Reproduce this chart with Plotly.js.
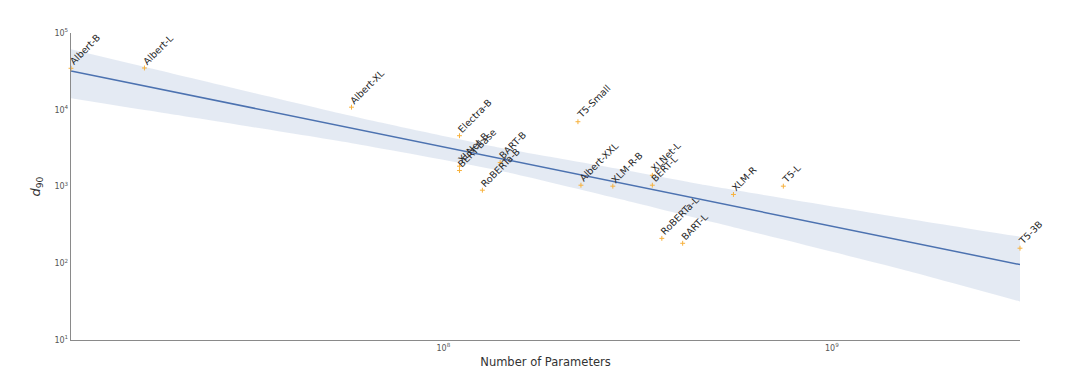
<!DOCTYPE html>
<html>
<head>
<meta charset="utf-8">
<script src="https://cdn.plot.ly/plotly-3.0.1.min.js"></script>
<style>html,body{margin:0;padding:0;background:#fff;}#chart{width:1080px;height:389px;}</style>
</head>
<body>
<div id="chart"></div>
<script>
// Model names, parameter counts and d90 values
const models = ['Albert-B','Albert-L','Albert-XL','Electra-B','XLNet-B','BERT-Base','RoBERTa-B','BART-B','T5-Small','Albert-XXL','XLM-R-B','XLNet-L','BERT-L','RoBERTa-L','BART-L','XLM-R','T5-L','T5-3B'];
const params = [1.1e7, 1.7e7, 5.8e7, 1.1e8, 1.1e8, 1.1e8, 1.26e8, 1.4e8, 2.22e8, 2.26e8, 2.73e8, 3.45e8, 3.45e8, 3.65e8, 4.13e8, 5.58e8, 7.5e8, 3.05e9];
const d90 = [34700, 35000, 10800, 4590, 1840, 1615, 895, 2050, 6980, 1040, 1010, 1400, 1040, 211, 182, 787, 1010, 157];

// 95% confidence band edges of the fit
const bandX = [1.1e7, 1.76e7, 6.11e7, 1.40e8, 2.86e8, 4.59e8, 1.51e9, 3.05e9];
const bandUpper = [61400, 34700, 7800, 3200, 1675, 1069, 393, 222];
const bandLower = [14160, 9680, 3510, 1607, 682, 376, 83.6, 31.8];

// Axis tick labels
const xTickVals = [1e8, 1e9];
const xTickText = ['10<sup>8</sup>', '10<sup>9</sup>'];
const yTickVals = [10, 100, 1000, 10000, 100000];
const yTickText = ['10<sup>1</sup>', '10<sup>2</sup>', '10<sup>3</sup>', '10<sup>4</sup>', '10<sup>5</sup>'];

// Least-squares fit in log-log space
const lx = params.map(Math.log10), ly = d90.map(Math.log10);
const n = lx.length;
const mx = lx.reduce((a,b)=>a+b,0)/n, my = ly.reduce((a,b)=>a+b,0)/n;
let sxy = 0, sxx = 0;
for (let i = 0; i < n; i++) { sxy += (lx[i]-mx)*(ly[i]-my); sxx += (lx[i]-mx)**2; }
const slope = sxy/sxx, icpt = my - slope*mx;
const xmin = Math.min(...params), xmax = Math.max(...params);
const fitX = [xmin, xmax];
const fitY = fitX.map(v => Math.pow(10, icpt + slope*Math.log10(v)));

const font = "DejaVu Sans, sans-serif";
const traces = [
  {x: bandX, y: bandUpper, type:'scatter', mode:'lines', line:{width:0, color:'rgba(0,0,0,0)', shape:'spline', smoothing:0.6}, hoverinfo:'skip', showlegend:false},
  {x: bandX, y: bandLower, type:'scatter', mode:'lines', line:{width:0, color:'rgba(0,0,0,0)', shape:'spline', smoothing:0.6}, fill:'tonexty', fillcolor:'rgba(76,114,176,0.15)', hoverinfo:'skip', showlegend:false},
  {x: fitX, y: fitY, type:'scatter', mode:'lines', line:{color:'#4c72b0', width:1.5}, showlegend:false},
  {x: params, y: d90, type:'scatter', mode:'markers', marker:{symbol:'cross-thin', size:3.5, line:{color:'#f7b13c', width:1}, color:'#f7b13c'}, cliponaxis:false, showlegend:false}
];

const annotations = models.map((m, i) => ({
  x: Math.log10(params[i]), y: Math.log10(d90[i]), xref:'x', yref:'y',
  text: m, showarrow:false, textangle:-45, xanchor:'left', yanchor:'bottom',
  xshift:-5, yshift:0, borderpad:0,
  font:{family:font, size:9.5, color:'#262626'}
}));

const layout = {
  width:1080, height:389,
  margin:{l:71, r:60, t:33, b:49},
  paper_bgcolor:'#fff', plot_bgcolor:'#fff',
  font:{family:font},
  showlegend:false,
  xaxis:{type:'log', range:[Math.log10(xmin), Math.log10(xmax)], showline:true, linecolor:'#8a8a8a', linewidth:1.25,
    showgrid:false, zeroline:false, ticks:'', tickvals:xTickVals, ticktext:xTickText, automargin:false,
    tickfont:{family:font, size:8, color:'#555'},
    title:{text:'Number of Parameters', font:{family:font, size:11.5, color:'#333'}, standoff:6}},
  yaxis:{type:'log', range:[1,5], showline:true, linecolor:'#8a8a8a', linewidth:1.25,
    showgrid:false, zeroline:false, ticks:'', tickvals:yTickVals, ticktext:yTickText, automargin:false,
    tickfont:{family:font, size:8, color:'#555'},
    title:{text:'<i>d</i><sub>90</sub>', font:{family:font, size:13, color:'#333'}, standoff:10}},
  annotations: annotations
};

Plotly.newPlot('chart', traces, layout, {displayModeBar:false, staticPlot:true});
</script>
</body>
</html>
